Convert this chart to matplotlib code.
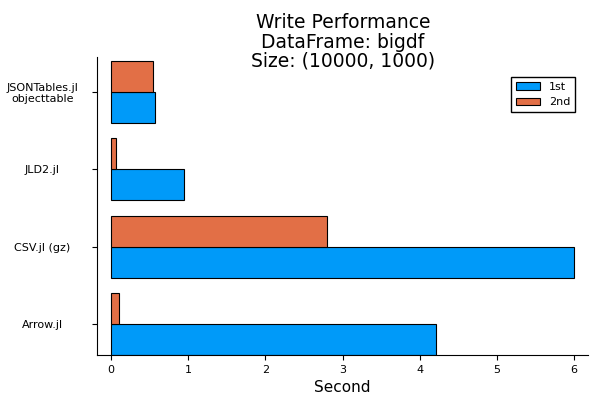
import matplotlib
matplotlib.use("Agg")
import matplotlib.pyplot as plt
import numpy as np

categories = ["Arrow.jl", "CSV.jl (gz)", "JLD2.jl", "JSONTables.jl\nobjecttable"]
first = [4.21, 6.0, 0.945, 0.57]
second = [0.10, 2.80, 0.07, 0.54]

fig = plt.figure(figsize=(6, 4), dpi=100)
ax = fig.add_axes([97/600, 45/400, 491/600, 298/400])
y = np.arange(len(categories))
h = 0.4
ax.barh(y - h/2, first, height=h, color="#009af9", edgecolor="black", linewidth=0.8, label="1st")
ax.barh(y + h/2, second, height=h, color="#e26f46", edgecolor="black", linewidth=0.8, label="2nd")
ax.set_yticks(y)
ax.set_yticklabels(categories, fontsize=8, ha="center")
ax.tick_params(axis="y", pad=36)
ax.set_xticks(range(7))
ax.tick_params(axis="x", labelsize=8)
ax.set_xlim(-0.18, 6.18)
ax.set_ylim(-0.4, 3.45)
for s in ["top", "right"]:
    ax.spines[s].set_visible(False)
ax.set_xlabel("Second", fontsize=11)
fig.text(343/600, 1 - 42/400, "Write Performance\nDataFrame: bigdf\nSize: (10000, 1000)",
         fontsize=13.5, linespacing=1.0, ha="center", va="center")
ax.legend(loc="upper right", bbox_to_anchor=(0.985, 0.95), fontsize=8, fancybox=False,
          edgecolor="black", handlelength=2.2, framealpha=1)
fig.savefig("out.png")
